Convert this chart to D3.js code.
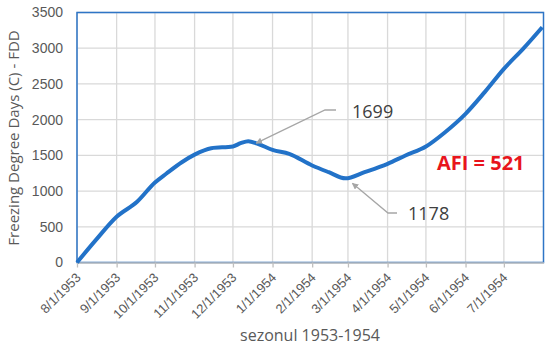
<!DOCTYPE html>
<meta charset="utf-8">
<title>FDD 1953-1954</title>
<style>
  body { margin: 0; background: #fff; }
  svg { font-family: "Open Sans", sans-serif; }
  .grid line { stroke: #d9d9d9; stroke-width: 1.3; }
  .tick text { fill: #595959; }
</style>
<body>
<svg id="chart" width="550" height="348"></svg>
<script src="https://d3js.org/d3.v7.min.js"></script>
<script>
// values
var dates = ["1953-08-01","1953-08-16","1953-09-01","1953-09-17","1953-10-01","1953-10-10",
  "1953-10-22","1953-11-01","1953-11-14","1953-12-01","1953-12-07","1953-12-13","1953-12-20",
  "1954-01-01","1954-01-14","1954-02-01","1954-02-14","1954-02-27","1954-03-14","1954-04-01",
  "1954-04-15","1954-05-01","1954-05-16","1954-06-01","1954-06-16","1954-07-01","1954-07-16",
  "1954-07-31"];
var fdd = [0, 320, 640, 850, 1120, 1246, 1404, 1510, 1600, 1625, 1670, 1699, 1665,
  1577, 1521, 1358, 1264, 1178, 1265, 1381, 1498, 1624, 1824, 2081, 2385, 2711, 2991, 3294];
var yTicks = [0, 500, 1000, 1500, 2000, 2500, 3000, 3500];
var monthTicks = ["1953-08-01","1953-09-01","1953-10-01","1953-11-01","1953-12-01","1954-01-01",
  "1954-02-01","1954-03-01","1954-04-01","1954-05-01","1954-06-01","1954-07-01"];
var peakDate = "1953-12-13", peakVal = 1699;
var lowDate = "1954-02-27", lowVal = 1178;
var afiText = "AFI = 521";

var parse = d3.timeParse("%Y-%m-%d");
var svg = d3.select("#chart");
var m = {left: 77, right: 543.5, top: 12.5, bottom: 262.5};

var x = d3.scaleTime()
    .domain([parse("1953-08-01"), parse("1954-08-01")])
    .range([m.left, m.right]);
var y = d3.scaleLinear().domain([0, 3500]).range([m.bottom, m.top]);

var data = dates.map(function(d, i) { return {date: parse(d), v: fdd[i]}; });
var ticks = monthTicks.map(parse);

// gridlines
var grid = svg.append("g").attr("class", "grid");
grid.selectAll("line.h").data(yTicks).enter().append("line").attr("class", "h")
    .attr("x1", m.left).attr("x2", m.right)
    .attr("y1", function(d) { return y(d); }).attr("y2", function(d) { return y(d); });
grid.selectAll("line.v").data(ticks).enter().append("line").attr("class", "v")
    .attr("y1", m.top).attr("y2", m.bottom)
    .attr("x1", function(d) { return x(d); }).attr("x2", function(d) { return x(d); });

// plot border (blue)
svg.append("rect")
    .attr("x", m.left).attr("y", m.top)
    .attr("width", m.right - m.left).attr("height", m.bottom - m.top)
    .attr("fill", "none").attr("stroke", "#2e75c6").attr("stroke-width", 1.5);

// x axis
var xAxis = svg.append("g")
    .attr("transform", "translate(0," + m.bottom + ")")
    .call(d3.axisBottom(x).tickValues(ticks).tickSize(5).tickSizeOuter(0)
      .tickFormat(d3.timeFormat("%-m/%-d/%Y")));
xAxis.select(".domain").attr("stroke", "#bfbfbf").attr("stroke-width", 1.3);
xAxis.selectAll(".tick line").attr("stroke", "#bfbfbf").attr("stroke-width", 1.3);
xAxis.selectAll(".tick text")
    .attr("font-size", "13px")
    .attr("text-anchor", "end")
    .attr("y", 0).attr("dy", 0)
    .attr("transform", "translate(4,16) rotate(-45)");

// y axis
var yAxis = svg.append("g")
    .attr("transform", "translate(" + m.left + ",0)")
    .call(d3.axisLeft(y).tickValues(yTicks).tickSize(0).tickPadding(14).tickFormat(d3.format("d")));
yAxis.select(".domain").remove();
yAxis.selectAll(".tick text").attr("font-size", "14px");

// axis titles
svg.append("text")
    .attr("transform", "translate(19,138) rotate(-90)")
    .attr("text-anchor", "middle").attr("fill", "#595959")
    .attr("font-size", "15px")
    .text("Freezing Degree Days (C) - FDD");
svg.append("text")
    .attr("x", 310).attr("y", 341)
    .attr("text-anchor", "middle").attr("fill", "#595959")
    .attr("font-size", "16px")
    .text("sezonul 1953-1954");

// series
svg.append("path")
    .datum(data)
    .attr("fill", "none")
    .attr("stroke", "#2272c8")
    .attr("stroke-width", 4)
    .attr("stroke-linejoin", "round")
    .attr("d", d3.line().curve(d3.curveMonotoneX)
      .x(function(d) { return x(d.date); }).y(function(d) { return y(d.v); }));

// callouts
svg.append("defs").append("marker")
    .attr("id", "arr").attr("viewBox", "0 0 10 10")
    .attr("refX", 9).attr("refY", 5)
    .attr("markerWidth", 5).attr("markerHeight", 5)
    .attr("orient", "auto")
  .append("path").attr("d", "M0,0 L10,5 L0,10 Z").attr("fill", "#a6a6a6");

var px = x(parse(peakDate)), py = y(peakVal);
svg.append("path")
    .attr("d", "M336,110 L325,110 L" + (px + 8) + "," + (py + 2))
    .attr("fill", "none").attr("stroke", "#a6a6a6").attr("stroke-width", 1.3)
    .attr("marker-end", "url(#arr)");
svg.append("text")
    .attr("x", 352).attr("y", 118)
    .attr("fill", "#404040").attr("font-size", "18px")
    .text(peakVal);

var lx = x(parse(lowDate)), ly = y(lowVal);
svg.append("path")
    .attr("d", "M397,213 L388,213 L" + (lx + 7) + "," + (ly + 5))
    .attr("fill", "none").attr("stroke", "#a6a6a6").attr("stroke-width", 1.3)
    .attr("marker-end", "url(#arr)");
svg.append("text")
    .attr("x", 408).attr("y", 220)
    .attr("fill", "#404040").attr("font-size", "18px")
    .text(lowVal);

svg.append("text")
    .attr("x", 437).attr("y", 170)
    .attr("fill", "#e8141c").attr("font-size", "20px").attr("font-weight", "bold")
    .text(afiText);
</script>
</body>
